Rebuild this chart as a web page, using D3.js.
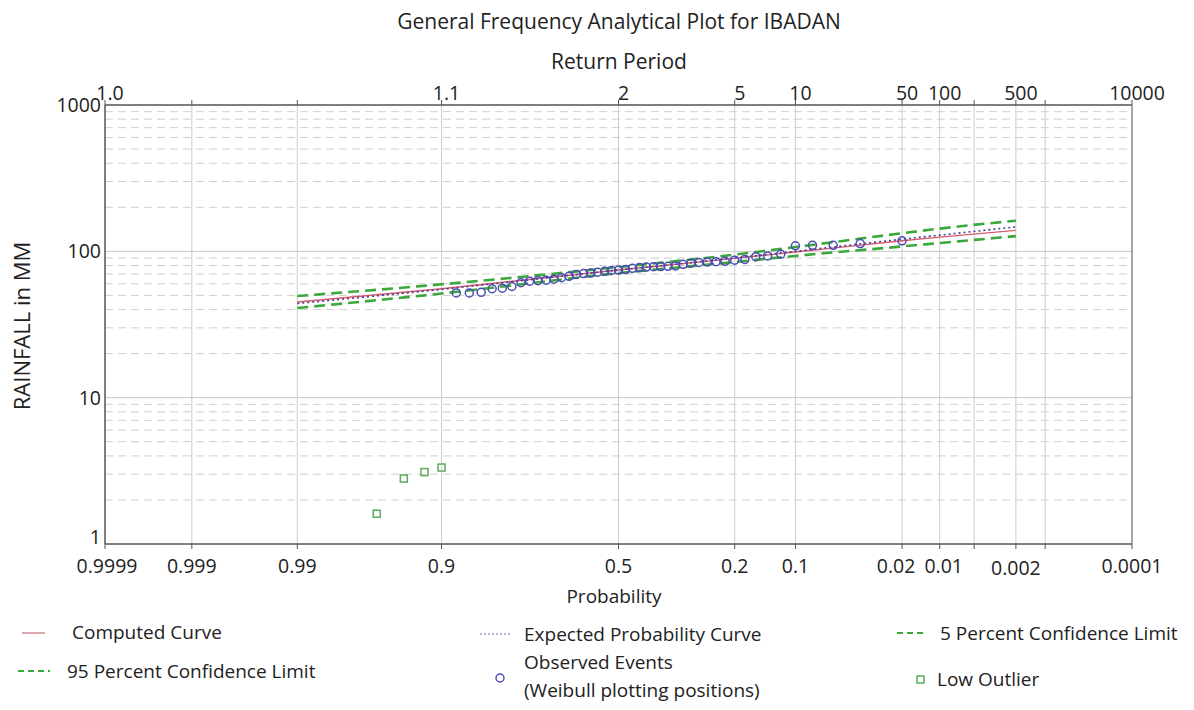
<!DOCTYPE html>
<html><head><meta charset="utf-8">
<script src="https://cdn.jsdelivr.net/npm/d3@7"></script>
<style>
html,body{margin:0;padding:0;background:#fff;}
text{font-family:"Open Sans","Noto Sans",sans-serif;fill:#222;}
</style></head>
<body>
<svg id="chart" width="1194" height="710"></svg>
<script>
// ---------- DATA ----------
const titleText = "General Frequency Analytical Plot for IBADAN";
const bottomTickProbs = [0.9999, 0.999, 0.99, 0.9, 0.5, 0.2, 0.1, 0.02, 0.01, 0.005, 0.002, 0.001, 0.0001];
const bottomTickLabels = ["0.9999", "0.999", "0.99", "0.9", "0.5", "0.2", "0.1", "0.02", "0.01", "", "0.002", "", "0.0001"];
const topTickLabels = ["1.0", "", "", "1.1", "2", "5", "10", "50", "100", "", "500", "", "10000"];
const yTickValues = [1, 10, 100, 1000];
const yTickLabels = ["1", "10", "100", "1000"];

// curves (exceedance probability -> rainfall, mm)
const curveProbs   = [0.99, 0.9, 0.5, 0.2, 0.1, 0.02, 0.01, 0.002];
const computed     = [45, 55.5, 74.5, 89.5, 99, 118, 125, 139];
const expected     = [44, 55, 74.5, 90, 100, 121, 129, 147];
const conf5        = [49.5, 59.5, 78, 95, 107, 133, 143, 162];
const conf95       = [41, 51.5, 71, 84.5, 93, 108, 114, 127];

// observed events, Weibull plotting positions (rank m, n+1 = 50)
const observedRank = [1,2,3,4,5,6,7,8,9,10,11,12,13,14,15,16,17,18,19,20,21,22,23,24,25,26,27,28,29,30,31,32,33,34,35,36,37,38,39,40,41,42,43,44];
const observedValue = [118,113,110,110,109,95.5,93,92,88,87,85.5,85,84.5,84,83,81.5,79.5,79,78.7,78.5,78,77.5,76.5,75,74.5,74,73,72,71,70.5,69.5,67.5,66,64.5,63.5,63,62.5,61,57.5,56,55.5,52.5,52,52];
const outlierRank = [45, 46, 47, 48];
const outlierValue = [3.33, 3.1, 2.8, 1.61];
const plottingN1 = 50;

// ---------- helpers ----------
function probit(p){ // inverse standard normal CDF (Acklam)
  const a=[-39.69683028665376,220.9460984245205,-275.9285104469687,138.3577518672690,-30.66479806614716,2.506628277459239];
  const b=[-54.47609879822406,161.5858368580409,-155.6989798598866,66.80131188771972,-13.28068155288572];
  const c=[-0.007784894002430293,-0.3223964580411365,-2.400758277161838,-2.549732539343734,4.374664141464968,2.938163982698783];
  const d=[0.007784695709041462,0.3224671290700398,2.445134137142996,3.754408661907416];
  const pl=0.02425;
  let q,r;
  if(p<pl){q=Math.sqrt(-2*Math.log(p));return (((((c[0]*q+c[1])*q+c[2])*q+c[3])*q+c[4])*q+c[5])/((((d[0]*q+d[1])*q+d[2])*q+d[3])*q+1);}
  if(p<=1-pl){q=p-0.5;r=q*q;return (((((a[0]*r+a[1])*r+a[2])*r+a[3])*r+a[4])*r+a[5])*q/(((((b[0]*r+b[1])*r+b[2])*r+b[3])*r+b[4])*r+1);}
  q=Math.sqrt(-2*Math.log(1-p));return -(((((c[0]*q+c[1])*q+c[2])*q+c[3])*q+c[4])*q+c[5])/((((d[0]*q+d[1])*q+d[2])*q+d[3])*q+1);
}
const zOf = p => probit(p);

// ---------- layout ----------
const L=105, R=1132, T=105, B=544;
const svg = d3.select("#chart");
const x = d3.scaleLinear().domain([zOf(0.9999), zOf(0.0001)]).range([L, R]);
const y = d3.scaleLog().domain([1, 1000]).range([B, T]);
const X = p => x(zOf(p));
const TICK_FS = 19.5, LEG_FS = 19;

// grid: horizontal minor dashed
const minor = [];
[1,10,100].forEach(d=>{for(let k=2;k<=9;k++) minor.push(d*k);});
svg.append("g").selectAll("line").data(minor).join("line")
  .attr("x1",L).attr("x2",R).attr("y1",d=>y(d)).attr("y2",d=>y(d))
  .attr("stroke","#cfcfcf").attr("stroke-width",1).attr("stroke-dasharray","8,5");
svg.append("g").selectAll("line").data([10,100]).join("line")
  .attr("x1",L).attr("x2",R).attr("y1",d=>y(d)).attr("y2",d=>y(d))
  .attr("stroke","#c8c8c8").attr("stroke-width",1);
// vertical grid
svg.append("g").selectAll("line").data(bottomTickProbs.slice(1,-1)).join("line")
  .attr("x1",d=>X(d)).attr("x2",d=>X(d)).attr("y1",T).attr("y2",B)
  .attr("stroke","#cdcdcd").attr("stroke-width",1);

// frame
svg.append("line").attr("x1",L).attr("x2",R).attr("y1",T).attr("y2",T).attr("stroke","#555").attr("stroke-width",1.5);
svg.append("line").attr("x1",L).attr("x2",R).attr("y1",B).attr("y2",B).attr("stroke","#555").attr("stroke-width",1.5);
svg.append("line").attr("x1",L).attr("x2",L).attr("y1",T).attr("y2",B).attr("stroke","#555").attr("stroke-width",1.5);
svg.append("line").attr("x1",R).attr("x2",R).attr("y1",T).attr("y2",B).attr("stroke","#888").attr("stroke-width",1.5);

// bottom axis
const bAxis = svg.append("g");
bAxis.selectAll("line").data(bottomTickProbs).join("line")
  .attr("x1",d=>X(d)).attr("x2",d=>X(d)).attr("y1",B).attr("y2",B+5).attr("stroke","#555");
bAxis.selectAll("text").data(bottomTickProbs).join("text")
  .attr("x",(d,i)=>X(d)+(i===0?2:(i===7?-6:(i===8?4:0))))
  .attr("y",(d,i)=>i===10?575:573)
  .attr("text-anchor","middle").attr("font-size",TICK_FS)
  .text((d,i)=>bottomTickLabels[i]);

// top axis
const tAxis = svg.append("g");
tAxis.selectAll("line").data(bottomTickProbs).join("line")
  .attr("x1",d=>X(d)).attr("x2",d=>X(d)).attr("y1",T).attr("y2",T-5).attr("stroke","#555");
tAxis.selectAll("text").data(bottomTickProbs).join("text")
  .attr("x",d=>X(d)+5).attr("y",100)
  .attr("text-anchor","middle").attr("font-size",TICK_FS)
  .text((d,i)=>topTickLabels[i]);

// left axis
svg.append("g").selectAll("text").data(yTickValues).join("text")
  .attr("x",101).attr("y",(d,i)=>y(d)+(i===0?0:7))
  .attr("text-anchor","end").attr("font-size",TICK_FS)
  .text((d,i)=>yTickLabels[i]);

// titles
svg.append("text").attr("x",619).attr("y",29).attr("text-anchor","middle").attr("font-size",21).text(titleText);
svg.append("text").attr("x",619).attr("y",69).attr("text-anchor","middle").attr("font-size",21).text("Return Period");
svg.append("text").attr("x",614).attr("y",603).attr("text-anchor","middle").attr("font-size",19).text("Probability");
svg.append("text").attr("transform","translate(30,326) rotate(-90)").attr("text-anchor","middle").attr("font-size",22).text("RAINFALL in MM");

// curves
const line = d3.line().x((d,i)=>X(curveProbs[i])).y(d=>y(d)).curve(d3.curveMonotoneX);
const series = [
  {v:conf5, color:"#3aa83a", w:2.6, dash:"11,6"},
  {v:conf95, color:"#3aa83a", w:2.6, dash:"11,6"},
  {v:computed, color:"#d65c6c", w:1.4, dash:null},
  {v:expected, color:"#4a3f8f", w:1.6, dash:"2,3"}
];
svg.append("g").selectAll("path").data(series).join("path")
  .attr("d",s=>line(s.v)).attr("fill","none")
  .attr("stroke",s=>s.color).attr("stroke-width",s=>s.w)
  .attr("stroke-dasharray",s=>s.dash);

// observed points
svg.append("g").selectAll("circle").data(observedValue).join("circle")
  .attr("cx",(d,i)=>X(observedRank[i]/plottingN1)).attr("cy",d=>y(d)).attr("r",4)
  .attr("fill","none").attr("stroke","#4b4bb5").attr("stroke-width",1.5);

// low outliers
svg.append("g").selectAll("rect").data(outlierValue).join("rect")
  .attr("x",(d,i)=>X(outlierRank[i]/plottingN1)-3.5).attr("y",d=>y(d)-3.5)
  .attr("width",7).attr("height",7)
  .attr("fill","none").attr("stroke","#5aaa5a").attr("stroke-width",1.5);

// legend
const lg = svg.append("g");
lg.append("line").attr("x1",22).attr("x2",45).attr("y1",633).attr("y2",633).attr("stroke","#d08a90").attr("stroke-width",1.5);
lg.append("text").attr("x",72).attr("y",639).attr("font-size",LEG_FS).text("Computed Curve");
lg.append("line").attr("x1",18).attr("x2",50).attr("y1",671).attr("y2",671).attr("stroke","#3aa83a").attr("stroke-width",2).attr("stroke-dasharray","6,4");
lg.append("text").attr("x",67).attr("y",678).attr("font-size",LEG_FS).text("95 Percent Confidence Limit");
lg.append("line").attr("x1",480).attr("x2",510).attr("y1",634).attr("y2",634).attr("stroke","#6a6a9a").attr("stroke-width",1.2).attr("stroke-dasharray","2,2");
lg.append("text").attr("x",524).attr("y",641).attr("font-size",LEG_FS).text("Expected Probability Curve");
lg.append("circle").attr("cx",500).attr("cy",678).attr("r",4).attr("fill","none").attr("stroke","#4b4bb5").attr("stroke-width",1.5);
lg.append("text").attr("x",524).attr("y",669).attr("font-size",LEG_FS).text("Observed Events");
lg.append("text").attr("x",524).attr("y",697).attr("font-size",LEG_FS).text("(Weibull plotting positions)");
lg.append("line").attr("x1",897).attr("x2",925).attr("y1",633).attr("y2",633).attr("stroke","#3aa83a").attr("stroke-width",2).attr("stroke-dasharray","6,4");
lg.append("text").attr("x",940).attr("y",640).attr("font-size",LEG_FS).text("5 Percent Confidence Limit");
lg.append("rect").attr("x",917).attr("y",676).attr("width",7).attr("height",7).attr("fill","none").attr("stroke","#5aaa5a").attr("stroke-width",1.5);
lg.append("text").attr("x",937).attr("y",686).attr("font-size",LEG_FS).text("Low Outlier");
</script>
</body></html>
